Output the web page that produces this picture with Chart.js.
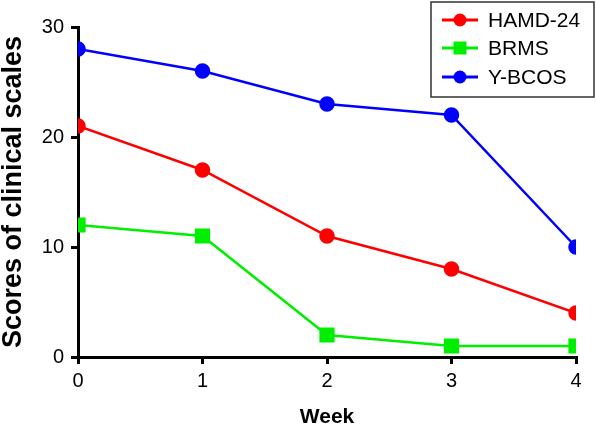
<!DOCTYPE html>
<html>
<head>
<meta charset="utf-8">
<script src="https://cdn.jsdelivr.net/npm/chart.js@4/dist/chart.umd.min.js"></script>
<style>
  html, body { margin: 0; padding: 0; background: #fff; }
  #wrap { width: 596px; height: 428px; }
</style>
</head>
<body>
<div id="wrap"><canvas id="myChart" width="596" height="428"></canvas></div>
<script>
// data
var weeks = [0, 1, 2, 3, 4];
var hamd = [21, 17, 11, 8, 4];
var brms = [12, 11, 2, 1, 1];
var ybcos = [28, 26, 23, 22, 10];
var yTicks = [0, 10, 20, 30];

var FONT = '"Liberation Sans", Arial, sans-serif';

function pts(vals) {
    return vals.map(function (v, i) { return { x: weeks[i], y: v }; });
}

// boxed legend in the top right corner, drawn on top of the plot
var boxLegend = {
    id: 'boxLegend',
    afterDraw: function (chart) {
        var ctx = chart.ctx;
        var x0 = 431, y0 = 2, w = 163, h = 95;
        ctx.save();
        ctx.fillStyle = '#fff';
        ctx.fillRect(x0, y0, w, h);
        ctx.strokeStyle = '#333';
        ctx.lineWidth = 1.5;
        ctx.strokeRect(x0, y0, w, h);
        var rows = [20, 48, 77];
        chart.data.datasets.forEach(function (ds, i) {
            var cy = rows[i];
            ctx.strokeStyle = ds.borderColor;
            ctx.lineWidth = 3;
            ctx.beginPath();
            ctx.moveTo(442, cy);
            ctx.lineTo(478, cy);
            ctx.stroke();
            ctx.fillStyle = ds.backgroundColor;
            if (ds.pointStyle === 'rect') {
                ctx.fillRect(453.5, cy - 6.5, 13, 13);
            } else {
                ctx.beginPath();
                ctx.arc(460, cy, 6.5, 0, Math.PI * 2);
                ctx.fill();
            }
            ctx.fillStyle = '#000';
            ctx.font = '21px ' + FONT;
            ctx.textBaseline = 'middle';
            ctx.fillText(ds.label, 488, cy + 1);
        });
        ctx.restore();
    }
};

var myChartRef = document.getElementById('myChart').getContext('2d');
new Chart(myChartRef, {
    type: 'line',
    data: {
        datasets: [{
            label: 'HAMD-24',
            data: pts(hamd),
            borderColor: '#ff0000',
            backgroundColor: '#ff0000',
            pointStyle: 'circle',
            pointRadius: 6.5,
            borderWidth: 2.5
        }, {
            label: 'BRMS',
            data: pts(brms),
            borderColor: '#00ee00',
            backgroundColor: '#00ee00',
            pointStyle: 'rect',
            pointRadius: 9,
            borderWidth: 2.5
        }, {
            label: 'Y-BCOS',
            data: pts(ybcos),
            borderColor: '#0000ff',
            backgroundColor: '#0000ff',
            pointStyle: 'circle',
            pointRadius: 6.5,
            borderWidth: 2.5
        }]
    },
    options: {
        responsive: false,
        animation: false,
        layout: { padding: { top: 27, right: 20, left: 0, bottom: 0 } },
        plugins: {
            legend: { display: false },
            tooltip: { enabled: false }
        },
        scales: {
            x: {
                type: 'linear',
                min: 0,
                max: 4,
                afterFit: function (s) { s.height = 71; },
                afterBuildTicks: function (s) {
                    s.ticks = weeks.map(function (v) { return { value: v }; });
                },
                border: { display: true, color: '#000', width: 3 },
                grid: { drawOnChartArea: false, drawTicks: true, tickLength: 7, color: '#000', lineWidth: 3 },
                ticks: { color: '#000', padding: 5, font: { family: FONT, size: 20 } },
                title: {
                    display: true,
                    text: 'Week',
                    color: '#000',
                    padding: { top: 0, bottom: 0 },
                    font: { family: FONT, size: 21, weight: 'bold', lineHeight: 1 }
                }
            },
            y: {
                min: 0,
                max: 30,
                afterFit: function (s) { s.width = 78; },
                afterBuildTicks: function (s) {
                    s.ticks = yTicks.map(function (v) { return { value: v }; });
                },
                border: { display: true, color: '#000', width: 3 },
                grid: { drawOnChartArea: false, drawTicks: true, tickLength: 7, color: '#000', lineWidth: 3 },
                ticks: { color: '#000', padding: 7, font: { family: FONT, size: 20 } },
                title: {
                    display: true,
                    text: 'Scores of clinical scales',
                    color: '#000',
                    padding: { top: 0, bottom: 0 },
                    font: { family: FONT, size: 27, weight: 'bold', lineHeight: 1 }
                }
            }
        }
    },
    plugins: [boxLegend]
});
</script>
</body>
</html>
